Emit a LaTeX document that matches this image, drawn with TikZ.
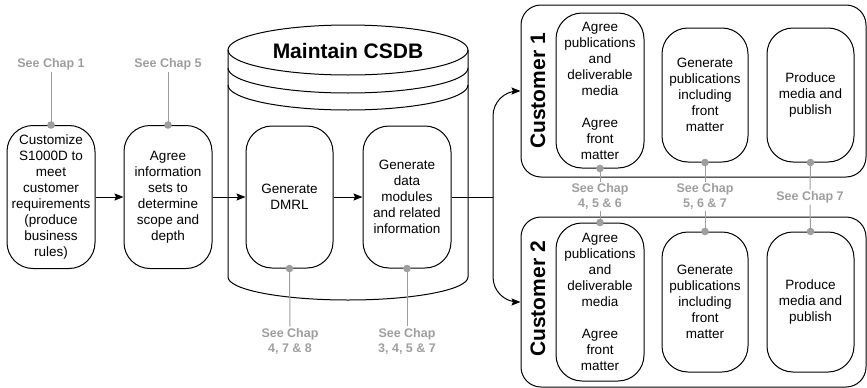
\documentclass[tikz,border=0pt]{standalone}
\usepackage{fontspec}
\setmainfont{Liberation Sans}
\usetikzlibrary{arrows.meta}
\definecolor{chapgray}{RGB}{158,158,158}
\newcommand\boxfont{\fontsize{13.5}{16}\selectfont}
\newcommand\chapfont{\bfseries\fontsize{12.5}{15}\selectfont}
\newcommand\headfont{\bfseries\fontsize{21}{24}\selectfont}
\tikzset{
  procbox/.style={draw, line width=1pt, rounded corners=26pt, align=center, inner sep=0pt, font=\boxfont},
  custbox/.style={draw, line width=1pt, rounded corners=20pt, inner sep=0pt},
  chaplabel/.style={text=chapgray, font=\chapfont, align=center, inner sep=1.5pt},
  chapline/.style={chapgray, line width=1pt},
  flow/.style={->, line width=1pt},
}
\begin{document}
\begin{tikzpicture}[x=1pt, y=-1pt, >={Stealth[length=9pt,width=7pt,inset=1.5pt]}]
\useasboundingbox (0,0) rectangle (867,388);
% CSDB cylinder
\draw[line width=1pt] (348,50) ellipse [x radius=120pt, y radius=25pt];
\draw[line width=1pt] (228,68) arc[start angle=180, end angle=360, x radius=120pt, y radius=25pt];
\draw[line width=1pt] (228,85) arc[start angle=180, end angle=360, x radius=120pt, y radius=25pt];
\draw[line width=1pt] (228,50) -- (228,277) arc[start angle=180, end angle=360, x radius=120pt, y radius=23pt] -- (468,50);
\node[font=\headfont] (csdb) at (348,51) {Maintain CSDB};

% process steps
\node[procbox, minimum width=88pt, minimum height=143pt] (custom) at (51,197) {Customize\\S1000D to\\meet\\customer\\requirements\\(produce\\business\\rules)};
\node[procbox, minimum width=88pt, minimum height=143pt] (infosets) at (168,197) {Agree\\information\\sets to\\determine\\scope and\\depth};
\node[procbox, minimum width=87pt, minimum height=142pt] (dmrl) at (289.5,197) {Generate\\DMRL};
\node[procbox, minimum width=88pt, minimum height=142pt] (datamod) at (407,197) {Generate\\data\\modules\\and related\\information};

% customers
\node[custbox, minimum width=345pt, minimum height=172pt] (cust1) at (693.5,91) {};
\node[custbox, minimum width=345pt, minimum height=170pt] (cust2) at (693.5,302) {};
\node[font=\headfont, rotate=90] (cust1lab) at (538,91) {Customer 1};
\node[font=\headfont, rotate=90] (cust2lab) at (538,299) {Customer 2};

\node[procbox, minimum width=88pt, minimum height=155pt] (agree1) at (600,90.5) {Agree\\publications\\and\\deliverable\\media\\[16pt]Agree\\front\\matter};
\node[procbox, minimum width=86pt, minimum height=134pt] (genpub1) at (705,95) {Generate\\publications\\including\\front\\matter};
\node[procbox, minimum width=87pt, minimum height=134pt] (media1) at (810.5,95) {Produce\\media and\\publish};
\node[procbox, minimum width=88pt, minimum height=158pt] (agree2) at (600,302) {Agree\\publications\\and\\deliverable\\media\\[16pt]Agree\\front\\matter};
\node[procbox, minimum width=86pt, minimum height=140pt] (genpub2) at (705,302) {Generate\\publications\\including\\front\\matter};
\node[procbox, minimum width=87pt, minimum height=140pt] (media2) at (810.5,302) {Produce\\media and\\publish};

% flow
\draw[flow] (custom) -- (infosets);
\draw[flow] (infosets) -- (dmrl);
\draw[flow] (dmrl) -- (datamod);
\coordinate (split) at (493,197);
\draw[line width=1pt] (datamod.east) -- (split);
\draw[flow, rounded corners=25pt] (split) |- (cust1.west);
\draw[flow, rounded corners=25pt] (split) |- (cust2.west);

% chapter references
\node[chaplabel] (chap1) at (51,64) {See Chap 1};
\node[chaplabel] (chap5) at (168,64) {See Chap 5};
\node[chaplabel] (chap478) at (290,341) {See Chap\\4, 7 \& 8};
\node[chaplabel] (chap3457) at (407,341) {See Chap\\3, 4, 5 \& 7};
\node[chaplabel] (chap456) at (600,196.5) {See Chap\\4, 5 \& 6};
\node[chaplabel] (chap567) at (705,196.5) {See Chap\\5, 6 \& 7};
\node[chaplabel] (chap7) at (810,197) {See Chap 7};

\foreach \lbl/\anc in {chap1.south/custom.north, chap5.south/infosets.north,
    chap478.north/dmrl.south, chap3457.north/datamod.south,
    chap456.north/agree1.south, chap456.south/agree2.north,
    chap567.north/genpub1.south, chap567.south/genpub2.north,
    chap7.north/media1.south, chap7.south/media2.north}
  {\draw[chapline] (\lbl) -- (\anc);
   \fill[chapgray] (\anc) circle (3.8pt);}
\end{tikzpicture}
\end{document}
